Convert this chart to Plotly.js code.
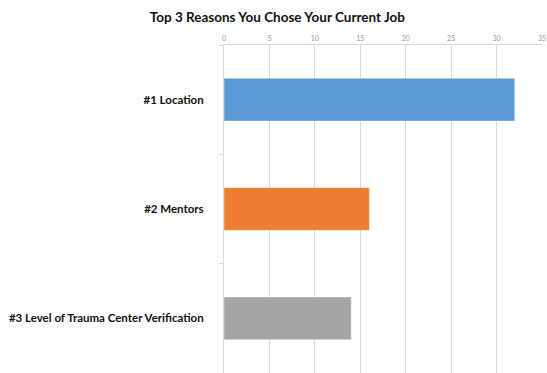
<!DOCTYPE html>
<html>
<head>
<meta charset="utf-8">
<script src="https://cdn.plot.ly/plotly-3.0.1.min.js"></script>
<style>html,body{margin:0;padding:0;background:#fff;}#chart{width:547px;height:373px;}</style>
</head>
<body>
<div id="chart"></div>
<script>
var categories = ["#1 Location", "#2 Mentors", "#3 Level of Trauma Center Verification"];
var values = [32, 16, 14];
var barColors = ["#5b9bd5", "#ed7d31", "#a5a5a5"];
var tickVals = [0, 5, 10, 15, 20, 25, 30, 35];

var trace = {
  type: "bar",
  orientation: "h",
  x: values,
  y: categories,
  marker: {color: barColors, line: {color: "rgba(255,255,255,0.4)", width: 1}},
  width: 0.39,
  hoverinfo: "none"
};

var layout = {
  width: 547,
  height: 373,
  margin: {l: 224, r: 5, t: 45, b: 0},
  paper_bgcolor: "#fff",
  plot_bgcolor: "#fff",
  showlegend: false,
  title: {
    text: "<b>Top 3 Reasons You Chose Your Current Job</b>",
    font: {family: "Lato, 'Open Sans', sans-serif", size: 13.5, color: "#111"},
    x: 0.507, xanchor: "center", xref: "container",
    y: 0.955, yanchor: "middle", yref: "container"
  },
  xaxis: {
    side: "top",
    range: [0, 35],
    tickvals: tickVals,
    ticktext: tickVals.map(String),
    showgrid: true,
    gridcolor: "#d9d9d9",
    gridwidth: 1,
    zeroline: false,
    showline: true,
    linecolor: "#d9d9d9",
    ticks: "",
    tickfont: {family: "Lato, 'Open Sans', sans-serif", size: 7, color: "#999"},
    fixedrange: true
  },
  yaxis: {
    type: "category",
    autorange: "reversed",
    showgrid: false,
    zeroline: false,
    showline: true,
    linecolor: "#d9d9d9",
    ticks: "outside",
    tickson: "boundaries",
    ticklen: 4,
    tickcolor: "#d9d9d9",
    tickfont: {family: "Lato, 'Open Sans', sans-serif", size: 11.5, color: "#111", weight: "bold"},
    ticklabelstandoff: 17,
    fixedrange: true
  }
};

Plotly.newPlot("chart", [trace], layout, {displayModeBar: false, staticPlot: true});
</script>
</body>
</html>
